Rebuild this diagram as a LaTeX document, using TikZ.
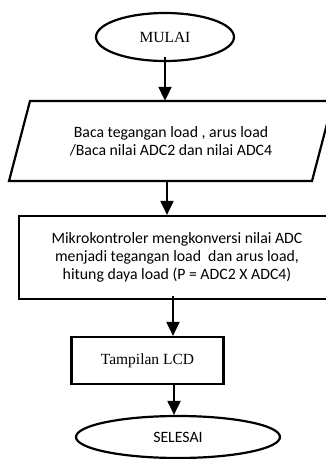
\documentclass[tikz,border=0pt]{standalone}
\usepackage{fontspec}
\setmainfont{Liberation Serif}
\newfontfamily\calibri{Carlito}
\usetikzlibrary{shapes.geometric,arrows.meta}
\tikzset{
  line/.style={line width=2.2pt},
  arr/.style={line width=2pt,-{Triangle[length=14pt,width=13pt]}},
  term/.style={ellipse,draw,line width=2.2pt,inner sep=0pt},
  procbox/.style={rectangle,draw,line width=2.2pt,inner sep=0pt,align=center},
  serif/.style={font=\fontsize{15.5}{18}\selectfont},
  sans/.style={font=\calibri\fontsize{15.8}{18.3}\selectfont},
}
\begin{document}
\begin{tikzpicture}[x=1pt,y=-1pt]
\useasboundingbox (0,0) rectangle (326,459);
\clip (0,0) rectangle (326,459);
% start terminal
\node[term,serif,minimum width=138pt,minimum height=48pt] (mulai) at (165,37) {MULAI};
% input / output parallelogram
\node[serif,minimum height=80pt,inner sep=0pt,align=center] (baca) at (171,141) {};
\draw[line,line join=miter] (30,101) -- (333,101) -- (312,181) -- (9,181) -- cycle;
\node[sans,align=center] (bacatext) at (baca.center) {Baca tegangan load , arus load\\/Baca nilai ADC2 dan nilai ADC4};
% processing block
\node[procbox,sans,minimum width=316pt,minimum height=83pt] (konv) at (177,257.5)
  {Mikrokontroler mengkonversi nilai ADC\\menjadi tegangan load\ \ dan arus load,\\hitung daya load (P = ADC2 X ADC4)};
% display block
\node[procbox,serif,minimum width=152pt,minimum height=47pt] (lcd) at (147.5,360.5) {Tampilan LCD};
% end terminal
\node[term,sans,minimum width=204pt,minimum height=42pt] (selesai) at (178,437) {SELESAI};
% connectors
\coordinate (a1s) at ([yshift=5pt]mulai.south);
\draw[arr] (a1s) -- (a1s |- baca.north);
\coordinate (a2s) at (baca.south -| 167,0);
\draw[arr] (a2s) -- (a2s |- konv.north);
\coordinate (a3s) at ([xshift=-4pt,yshift=4pt]konv.south);
\draw[arr] (a3s) -- (a3s |- lcd.north);
\coordinate (a4s) at (lcd.south -| 174,0);
\draw[arr] (a4s) -- (a4s |- selesai.north);
\end{tikzpicture}
\end{document}
